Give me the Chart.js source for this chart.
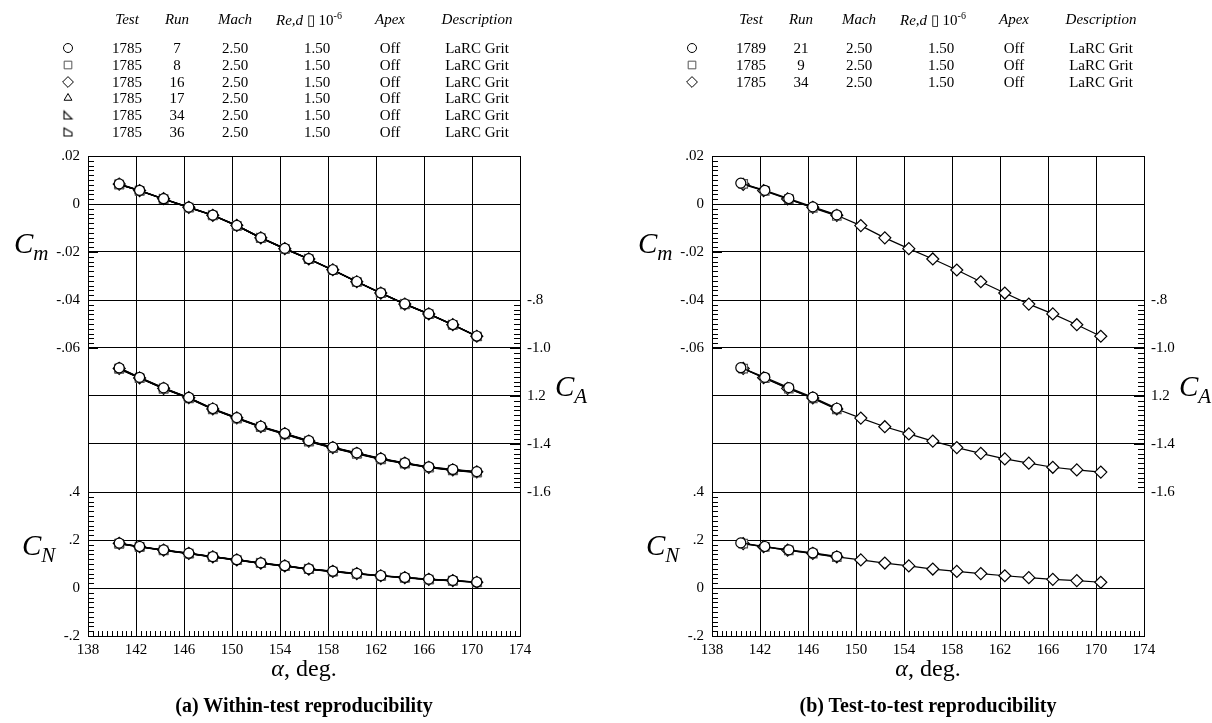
<!DOCTYPE html>
<html>
<head>
<meta charset="utf-8">
<title>Reproducibility of Cm, CA, CN</title>
<script src="https://cdn.jsdelivr.net/npm/chart.js@4.4.1/dist/chart.umd.min.js"></script>
<style>
  html, body { margin: 0; padding: 0; background: #fff; }
  body { position: relative; width: 1212px; height: 723px; overflow: hidden;
         font-family: "Liberation Serif", "Times New Roman", serif; color: #000; }
  .panel { position: absolute; top: 0; width: 588px; height: 723px; }
  .panel canvas { position: absolute; left: 0; top: 0; }
  .txt { position: absolute; white-space: nowrap; line-height: 1; transform: translate(-50%, -50%); }
  .hdr { font-style: italic; font-size: 15px; }
  .hdr sup { font-style: normal; font-size: 10px; vertical-align: 6px; }
  .row { font-size: 15px; }
  .sym { position: absolute; }
  .coef { position: absolute; white-space: nowrap; line-height: 1; font-style: italic; font-size: 29px; }
  .coef sub { font-size: 21px; vertical-align: -7px; }
  .xtitle { font-size: 24px; }
  .caption { font-weight: bold; font-size: 20px; }
</style>
</head>
<body>
<div class="panel" id="panelA" style="left:0px"><canvas id="chartA" width="588" height="723"></canvas></div>
<div class="panel" id="panelB" style="left:624px"><canvas id="chartB" width="588" height="723"></canvas></div>
<script>
// angle of attack, deg
const alpha = [140.6, 142.3, 144.3, 146.4, 148.4, 150.4, 152.4, 154.4, 156.4, 158.4, 160.4, 162.4, 164.4, 166.4, 168.4, 170.4];
const alphaRun21 = [140.4, 142.4, 144.4, 146.4, 148.4];
const alphaRun9 = [140.6, 142.4, 144.4, 146.4, 148.4];

// test 1785, run 7
const cmRun7 = [0.0084, 0.0057, 0.0022, -0.0013, -0.0046, -0.0089, -0.0140, -0.0185, -0.0228, -0.0274, -0.0323, -0.0370, -0.0416, -0.0457, -0.0502, -0.0550];
const caRun7 = [-1.083, -1.122, -1.166, -1.206, -1.252, -1.290, -1.326, -1.356, -1.386, -1.413, -1.437, -1.460, -1.479, -1.495, -1.506, -1.515];
const cnRun7 = [0.187, 0.173, 0.159, 0.145, 0.131, 0.118, 0.105, 0.093, 0.080, 0.070, 0.061, 0.052, 0.044, 0.037, 0.032, 0.025];
// run 8
const cmRun8 = [0.0081, 0.0055, 0.0020, -0.0015, -0.0048, -0.0091, -0.0142, -0.0187, -0.0230, -0.0276, -0.0325, -0.0372, -0.0418, -0.0459, -0.0504, -0.0552];
const caRun8 = [-1.087, -1.126, -1.170, -1.210, -1.256, -1.294, -1.330, -1.360, -1.390, -1.417, -1.441, -1.464, -1.482, -1.499, -1.510, -1.519];
const cnRun8 = [0.184, 0.171, 0.157, 0.143, 0.129, 0.116, 0.103, 0.091, 0.078, 0.068, 0.059, 0.050, 0.042, 0.035, 0.030, 0.023];
// run 16
const cmRun16 = [0.0083, 0.0056, 0.0022, -0.0014, -0.0047, -0.0089, -0.0141, -0.0186, -0.0229, -0.0274, -0.0324, -0.0371, -0.0417, -0.0458, -0.0503, -0.0551];
const caRun16 = [-1.085, -1.125, -1.168, -1.207, -1.254, -1.291, -1.328, -1.357, -1.388, -1.415, -1.439, -1.461, -1.480, -1.497, -1.508, -1.516];
const cnRun16 = [0.186, 0.172, 0.158, 0.144, 0.130, 0.117, 0.104, 0.092, 0.079, 0.069, 0.060, 0.051, 0.043, 0.036, 0.031, 0.024];
// run 17
const cmRun17 = [0.0082, 0.0056, 0.0021, -0.0013, -0.0047, -0.0090, -0.0140, -0.0186, -0.0228, -0.0275, -0.0323, -0.0371, -0.0416, -0.0458, -0.0503, -0.0550];
const caRun17 = [-1.084, -1.123, -1.167, -1.208, -1.253, -1.292, -1.327, -1.358, -1.387, -1.414, -1.438, -1.462, -1.480, -1.496, -1.507, -1.517];
const cnRun17 = [0.186, 0.173, 0.158, 0.144, 0.131, 0.117, 0.104, 0.092, 0.080, 0.069, 0.060, 0.051, 0.043, 0.036, 0.031, 0.025];
// run 34 (also in the test-to-test panel)
const cmRun34 = [0.0082, 0.0056, 0.0021, -0.0014, -0.0047, -0.0090, -0.0141, -0.0186, -0.0229, -0.0275, -0.0324, -0.0371, -0.0417, -0.0458, -0.0503, -0.0551];
const caRun34 = [-1.085, -1.124, -1.168, -1.208, -1.254, -1.292, -1.328, -1.358, -1.388, -1.415, -1.439, -1.462, -1.480, -1.497, -1.508, -1.517];
const cnRun34 = [0.185, 0.172, 0.158, 0.144, 0.130, 0.117, 0.104, 0.092, 0.079, 0.069, 0.060, 0.051, 0.043, 0.036, 0.031, 0.024];
// run 36
const cmRun36 = [0.0082, 0.0055, 0.0021, -0.0015, -0.0047, -0.0091, -0.0141, -0.0187, -0.0229, -0.0276, -0.0324, -0.0372, -0.0417, -0.0459, -0.0503, -0.0552];
const caRun36 = [-1.086, -1.125, -1.169, -1.209, -1.255, -1.293, -1.329, -1.359, -1.389, -1.416, -1.440, -1.463, -1.481, -1.498, -1.509, -1.518];
const cnRun36 = [0.185, 0.171, 0.157, 0.143, 0.130, 0.116, 0.103, 0.091, 0.079, 0.068, 0.059, 0.050, 0.043, 0.036, 0.030, 0.024];
// test 1789, run 21
const cmRun21 = [0.0087, 0.0057, 0.0023, -0.0012, -0.0045];
const caRun21 = [-1.082, -1.122, -1.165, -1.205, -1.251];
const cnRun21 = [0.188, 0.173, 0.159, 0.146, 0.132];
// test 1785, run 9
const cmRun9 = [0.0084, 0.0055, 0.0020, -0.0016, -0.0050];
const caRun9 = [-1.086, -1.126, -1.169, -1.210, -1.256];
const cnRun9 = [0.185, 0.171, 0.157, 0.143, 0.129];

// tick labels
const alphaTicks = [138, 142, 146, 150, 154, 158, 162, 166, 170, 174];
const cmTicks = ['.02', '0', '-.02', '-.04', '-.06'];
const cnTicks = ['.4', '.2', '0', '-.2'];
const caTicks = ['-.8', '-1.0', '1.2', '-1.4', '-1.6'];

// legend tables
const testsA = ['1785', '1785', '1785', '1785', '1785', '1785'];
const runsA = ['7', '8', '16', '17', '34', '36'];
const testsB = ['1789', '1785', '1785'];
const runsB = ['21', '9', '34'];
const machNo = '2.50';
const reynolds = '1.50';
const apexSetting = 'Off';
const description = 'LaRC Grit';

// axis layout: one shared grid of 10 rows, each coefficient has its own scale
const cmTop = 0.02, cmStep = 0.02;
const cnBottom = -0.2, cnStep = 0.2;
const caTop = -0.2, caStep = 0.2;

// custom marker shapes
function shapeCanvas(points) {
    let c = document.createElement('canvas');
    c.width = 13; c.height = 13;
    let g = c.getContext('2d');
    g.fillStyle = '#fff';
    g.strokeStyle = '#000';
    g.lineWidth = 1.1;
    g.beginPath();
    points.forEach(function(p, i) { if (i === 0) g.moveTo(p[0], p[1]); else g.lineTo(p[0], p[1]); });
    g.closePath();
    g.fill();
    g.stroke();
    return c;
}
const flagLow = shapeCanvas([[2.5, 2.5], [2.5, 10.5], [10.5, 10.5]]);
const flagHigh = shapeCanvas([[2.5, 2.5], [10.5, 7], [10.5, 10.5], [2.5, 10.5]]);

const markers = {
    circle: { style: 'circle', radius: 5, color: '#000' },
    square: { style: 'rect', radius: 6, color: '#555' },
    diamond: { style: 'rectRot', radius: 6, color: '#000' },
    triangle: { style: 'triangle', radius: 5, color: '#000' },
    flagLow: { style: flagLow, radius: 5, color: '#000' },
    flagHigh: { style: flagHigh, radius: 5, color: '#000' }
};

const seriesA = [
    { x: alpha, cm: cmRun7, ca: caRun7, cn: cnRun7, marker: 'circle' },
    { x: alpha, cm: cmRun8, ca: caRun8, cn: cnRun8, marker: 'square' },
    { x: alpha, cm: cmRun16, ca: caRun16, cn: cnRun16, marker: 'diamond' },
    { x: alpha, cm: cmRun17, ca: caRun17, cn: cnRun17, marker: 'triangle' },
    { x: alpha, cm: cmRun34, ca: caRun34, cn: cnRun34, marker: 'flagLow' },
    { x: alpha, cm: cmRun36, ca: caRun36, cn: cnRun36, marker: 'flagHigh' }
];
const seriesB = [
    { x: alphaRun21, cm: cmRun21, ca: caRun21, cn: cnRun21, marker: 'circle' },
    { x: alphaRun9, cm: cmRun9, ca: caRun9, cn: cnRun9, marker: 'square' },
    { x: alpha, cm: cmRun34, ca: caRun34, cn: cnRun34, marker: 'diamond' }
];

// small inward ticks along the frame
const minorTicks = {
    id: 'minorTicks',
    afterDraw: function(chart) {
        let ctx = chart.ctx, a = chart.chartArea, s = chart.scales;
        ctx.save();
        ctx.strokeStyle = '#000';
        ctx.lineWidth = 1;
        ctx.beginPath();
        for (let i = 0; i <= 90; i++) {
            let px = Math.round(s.x.getPixelForValue(138 + i * 0.4)) + 0.5;
            ctx.moveTo(px, a.bottom);
            ctx.lineTo(px, a.bottom - (i % 10 === 0 ? 9 : 5));
        }
        for (let i = 0; i <= 40; i++) {
            let py = Math.round(s.yCm.getPixelForValue(0.02 - i * 0.002)) + 0.5;
            ctx.moveTo(a.left, py);
            ctx.lineTo(a.left + (i % 10 === 0 ? 10 : 6), py);
        }
        for (let i = 0; i <= 30; i++) {
            let py = Math.round(s.yCN.getPixelForValue(0.4 - i * 0.02)) + 0.5;
            ctx.moveTo(a.left, py);
            ctx.lineTo(a.left + (i % 10 === 0 ? 10 : 6), py);
        }
        for (let i = 0; i <= 40; i++) {
            let py = Math.round(s.yCA.getPixelForValue(-0.8 - i * 0.02)) + 0.5;
            ctx.moveTo(a.right, py);
            ctx.lineTo(a.right - (i % 10 === 0 ? 10 : 6), py);
        }
        ctx.stroke();
        ctx.restore();
    }
};

function makeDatasets(series) {
    let sets = [];
    let coefs = [['cm', 'yCm'], ['ca', 'yCA'], ['cn', 'yCN']];
    series.forEach(function(s) {
        let m = markers[s.marker];
        coefs.forEach(function(c) {
            sets.push({
                data: s.x.map(function(a, i) { return { x: a, y: s[c[0]][i] }; }),
                yAxisID: c[1],
                showLine: true,
                borderColor: '#000',
                borderWidth: 1.2,
                pointStyle: m.style,
                pointRadius: m.radius,
                pointHoverRadius: m.radius,
                pointBorderColor: m.color,
                pointBackgroundColor: '#fff',
                pointBorderWidth: 1.2
            });
        });
    });
    return sets;
}

function makeChart(canvasId, series) {
    return new Chart(document.getElementById(canvasId), {
        type: 'scatter',
        data: { datasets: makeDatasets(series) },
        plugins: [minorTicks],
        options: {
            responsive: false,
            animation: false,
            devicePixelRatio: 1,
            layout: { padding: { top: 156, left: 0, right: 0, bottom: 0 } },
            plugins: { legend: { display: false }, tooltip: { enabled: false }, title: { display: false } },
            scales: {
                x: {
                    type: 'linear', position: 'bottom', min: 138, max: 174,
                    afterFit: function(scale) { scale.height = 87; },
                    afterBuildTicks: function(scale) { scale.ticks = alphaTicks.map(function(v) { return { value: v }; }); },
                    ticks: { autoSkip: false, maxRotation: 0, padding: 5, color: '#000',
                             font: { family: 'Liberation Serif', size: 15 },
                             callback: function(v) { return String(v); } },
                    grid: { color: '#000', lineWidth: 1, drawTicks: false },
                    border: { color: '#000', width: 1 }
                },
                yCm: {
                    type: 'linear', position: 'left', min: cmTop - 10 * cmStep, max: cmTop,
                    afterFit: function(scale) { scale.width = 88; },
                    afterBuildTicks: function(scale) {
                        let t = [];
                        for (let k = 10; k >= 0; k--) t.push({ value: cmTop - k * cmStep });
                        scale.ticks = t;
                    },
                    ticks: { autoSkip: false, padding: 8, color: '#000',
                             font: { family: 'Liberation Serif', size: 15 },
                             callback: function(v) {
                                 let k = Math.round((cmTop - v) / cmStep);
                                 if (k <= 4) return cmTicks[k];
                                 if (k >= 7) return cnTicks[k - 7];
                                 return '';
                             } },
                    grid: { color: '#000', lineWidth: 1, drawTicks: false },
                    border: { color: '#000', width: 1 }
                },
                yCN: {
                    type: 'linear', display: false, min: cnBottom, max: cnBottom + 10 * cnStep
                },
                yCA: {
                    type: 'linear', position: 'right',
                    min: caTop - 10 * caStep, max: caTop,
                    afterFit: function(scale) { scale.width = 68; },
                    afterBuildTicks: function(scale) {
                        let t = [];
                        for (let k = 10; k >= 0; k--) t.push({ value: caTop - k * caStep });
                        scale.ticks = t;
                    },
                    ticks: { autoSkip: false, padding: 7, color: '#000',
                             font: { family: 'Liberation Serif', size: 15 },
                             callback: function(v) {
                                 let k = Math.round((caTop - v) / caStep);
                                 if (k >= 3 && k <= 7) return caTicks[k - 3];
                                 return '';
                             } },
                    grid: { display: false, drawTicks: false },
                    border: { color: '#000', width: 1 }
                }
            }
        }
    });
}

function addText(panel, cls, html, x, y) {
    let d = document.createElement('div');
    d.className = 'txt ' + cls;
    d.innerHTML = html;
    d.style.left = x + 'px';
    d.style.top = y + 'px';
    panel.appendChild(d);
}

function addSymbol(panel, markerName, x, y) {
    let m = markers[markerName];
    let c = document.createElement('canvas');
    c.width = 16; c.height = 16;
    c.className = 'sym';
    c.style.left = (x - 8) + 'px';
    c.style.top = (y - 8) + 'px';
    let g = c.getContext('2d');
    g.strokeStyle = m.color;
    g.fillStyle = '#fff';
    g.lineWidth = 1;
    Chart.helpers.drawPoint(g, { pointStyle: m.style, radius: m.radius * 0.9, rotation: 0, borderWidth: 1 }, 8, 8);
    panel.appendChild(c);
}

const cols = { sym: 68, test: 127, run: 177, mach: 235, reHdr: 309, re: 317, apex: 390, desc: 477 };
const rowY0 = 48, rowDy = 16.8, hdrY = 19;

function addLegend(panel, tests, runs, series) {
    addText(panel, 'hdr', 'Test', cols.test, hdrY);
    addText(panel, 'hdr', 'Run', cols.run, hdrY);
    addText(panel, 'hdr', 'Mach', cols.mach, hdrY);
    addText(panel, 'hdr', 'Re,d <span style="font-style:normal">&#9647;</span> <span style="font-style:normal">10</span><sup>-6</sup>', cols.reHdr, hdrY);
    addText(panel, 'hdr', 'Apex', cols.apex, hdrY);
    addText(panel, 'hdr', 'Description', cols.desc, hdrY);
    tests.forEach(function(t, i) {
        let y = rowY0 + i * rowDy;
        addSymbol(panel, series[i].marker, cols.sym, y);
        addText(panel, 'row', t, cols.test, y);
        addText(panel, 'row', runs[i], cols.run, y);
        addText(panel, 'row', machNo, cols.mach, y);
        addText(panel, 'row', reynolds, cols.re, y);
        addText(panel, 'row', apexSetting, cols.apex, y);
        addText(panel, 'row', description, cols.desc, y);
    });
}

function addAxisTitles(panel, caption) {
    let cm = document.createElement('div');
    cm.className = 'coef';
    cm.innerHTML = 'C<sub>m</sub>';
    cm.style.left = '14px'; cm.style.top = '229px';
    panel.appendChild(cm);
    let cn = document.createElement('div');
    cn.className = 'coef';
    cn.innerHTML = 'C<sub>N</sub>';
    cn.style.left = '22px'; cn.style.top = '531px';
    panel.appendChild(cn);
    let ca = document.createElement('div');
    ca.className = 'coef';
    ca.innerHTML = 'C<sub>A</sub>';
    ca.style.left = '555px'; ca.style.top = '372px';
    panel.appendChild(ca);
    addText(panel, 'xtitle', '<i>&alpha;</i>, deg.', 304, 668);
    addText(panel, 'caption', caption, 304, 705);
}

document.addEventListener('DOMContentLoaded', function() {
    Chart.defaults.font.family = 'Liberation Serif';
    makeChart('chartA', seriesA);
    makeChart('chartB', seriesB);
    let pA = document.getElementById('panelA');
    let pB = document.getElementById('panelB');
    addLegend(pA, testsA, runsA, seriesA);
    addLegend(pB, testsB, runsB, seriesB);
    addAxisTitles(pA, '(a) Within-test reproducibility');
    addAxisTitles(pB, '(b) Test-to-test reproducibility');
});
</script>
</body>
</html>
